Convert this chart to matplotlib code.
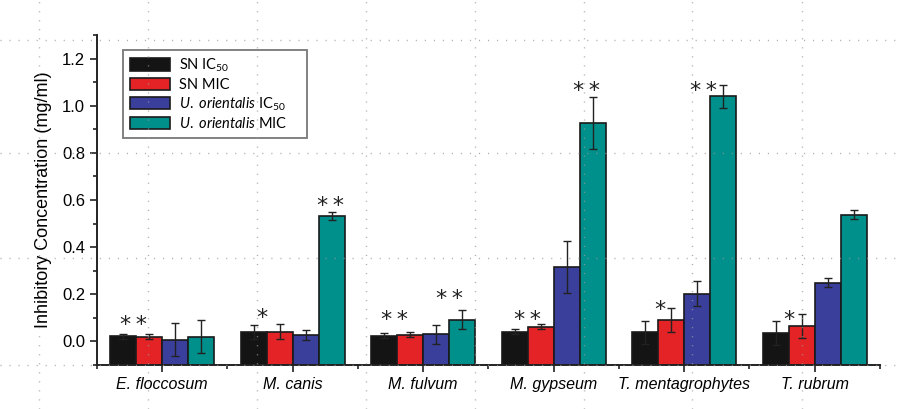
import numpy as np
import matplotlib
matplotlib.use("Agg")
import matplotlib.pyplot as plt
from matplotlib.lines import Line2D
from matplotlib.ticker import MultipleLocator, FixedLocator

plt.rcParams['font.family'] = ['Liberation Sans', 'DejaVu Sans']
plt.rcParams['mathtext.fontset'] = 'custom'
plt.rcParams['mathtext.rm'] = 'Lato'
plt.rcParams['mathtext.it'] = 'Lato:italic'

# --- data (mg/ml) ---
species = ['E. floccosum', 'M. canis', 'M. fulvum', 'M. gypseum',
           'T. mentagrophytes', 'T. rubrum']
series = ['SN IC$_{50}$', 'SN MIC', r'$\it{U.\ orientalis}$ IC$_{50}$',
          r'$\it{U.\ orientalis}$ MIC']
sn_ic50 = [0.021, 0.041, 0.025, 0.042, 0.038, 0.035]
sn_ic50_err = [0.010, 0.030, 0.010, 0.010, 0.050, 0.050]
sn_mic = [0.020, 0.042, 0.028, 0.063, 0.090, 0.065]
sn_mic_err = [0.010, 0.032, 0.010, 0.010, 0.050, 0.050]
uo_ic50 = [0.008, 0.027, 0.030, 0.315, 0.203, 0.249]
uo_ic50_err = [0.070, 0.020, 0.040, 0.110, 0.052, 0.020]
uo_mic = [0.020, 0.532, 0.093, 0.926, 1.040, 0.538]
uo_mic_err = [0.070, 0.018, 0.040, 0.110, 0.048, 0.020]

# significance marks: x in category units (1-based), y = centre of the marks
star_x = [0.78, 1.76, 2.29, 2.78, 3.20, 3.80, 4.25, 4.81, 5.15, 5.80]
star_y = [0.100, 0.128, 0.604, 0.121, 0.207, 0.121, 1.089, 0.163, 1.089, 0.121]
star_txt = ['**', '*', '**', '**', '**', '**', '**', '*', '**', '*']

colors = ['#141414', '#e42326', '#3a3f9c', '#00908c']
y_min, y_max = -0.1, 1.3

fig = plt.figure(figsize=(9.03, 4.09), dpi=100)
ax = fig.add_axes([97 / 903, 1 - 365 / 409, 783 / 903, 330 / 409])

x = np.arange(1, len(species) + 1)
w = 0.2
vals = [sn_ic50, sn_mic, uo_ic50, uo_mic]
errs = [sn_ic50_err, sn_mic_err, uo_ic50_err, uo_mic_err]
handles = []
for i, (v, e) in enumerate(zip(vals, errs)):
    v = np.array(v)
    # bars start at the bottom of the axis, as in the original
    b = ax.bar(x + (i - 1.5) * w, v - y_min, w, bottom=y_min, color=colors[i],
               edgecolor='#1a1a1a', linewidth=1.2, label=series[i], zorder=2)
    ax.errorbar(x + (i - 1.5) * w, v, yerr=e, fmt='none', ecolor='#222222',
                elinewidth=1, capsize=2.6, capthick=1, zorder=3)
    handles.append(b)

for sx, sy, t in zip(star_x, star_y, star_txt):
    ax.text(sx, sy - 0.054, '\u2009'.join(t), ha='center', va='baseline',
            fontsize=16, family='DejaVu Sans', color='#222222')

ax.set_xlim(0.5, 6.5)
ax.set_ylim(y_min, y_max)
ax.set_xticks(x)
ax.set_xticklabels(species, fontstyle='italic', fontsize=11.5)
ax.xaxis.set_minor_locator(FixedLocator(np.arange(0.5, 7, 1.0)))
ax.yaxis.set_major_locator(FixedLocator(np.arange(0, 1.21, 0.2)))
ax.yaxis.set_minor_locator(MultipleLocator(0.1))
ax.set_yticklabels(['%.1f' % t for t in np.arange(0, 1.21, 0.2)])
ax.tick_params(axis='y', labelsize=12)
ax.tick_params(which='major', length=5, width=1.2, direction='out', color='#222222')
ax.tick_params(which='minor', length=3, width=1.2, direction='out', color='#222222')
ax.set_ylabel('Inhibitory Concentration (mg/ml)', fontsize=13)
ax.yaxis.set_label_coords(-0.058, 0.5)
for s in ['top', 'right']:
    ax.spines[s].set_visible(False)
for s in ['left', 'bottom']:
    ax.spines[s].set_linewidth(1.4)
    ax.spines[s].set_color('#222222')

leg = ax.legend(handles=handles, loc='upper left', mode='expand',
                bbox_to_anchor=(123 / 903, 1 - 134 / 409, 184 / 903, 84 / 409),
                bbox_transform=fig.transFigure, borderaxespad=0,
                fancybox=False, edgecolor='#777777', framealpha=1,
                prop={'family': 'Lato', 'size': 10.5},
                handlelength=2.8, handleheight=0.9, handletextpad=0.6,
                labelspacing=0.25, borderpad=0.45)
leg.get_frame().set_linewidth(1.3)

# dotted page grid seen over the whole picture
grid_x = [39, 148, 257, 366, 475, 584, 692, 802]
grid_y = [40, 153, 258, 365]
for gx in grid_x:
    fig.add_artist(Line2D([gx / 903, gx / 903], [0, 1], transform=fig.transFigure,
                          color='#9a9a9a', lw=1, dashes=(0.8, 5.7), alpha=0.8, zorder=5))
for gy in grid_y:
    fig.add_artist(Line2D([0, 1], [1 - gy / 409, 1 - gy / 409], transform=fig.transFigure,
                          color='#9a9a9a', lw=1, dashes=(0.8, 5.7), alpha=0.8, zorder=5))

fig.savefig('out.png', dpi=100)
